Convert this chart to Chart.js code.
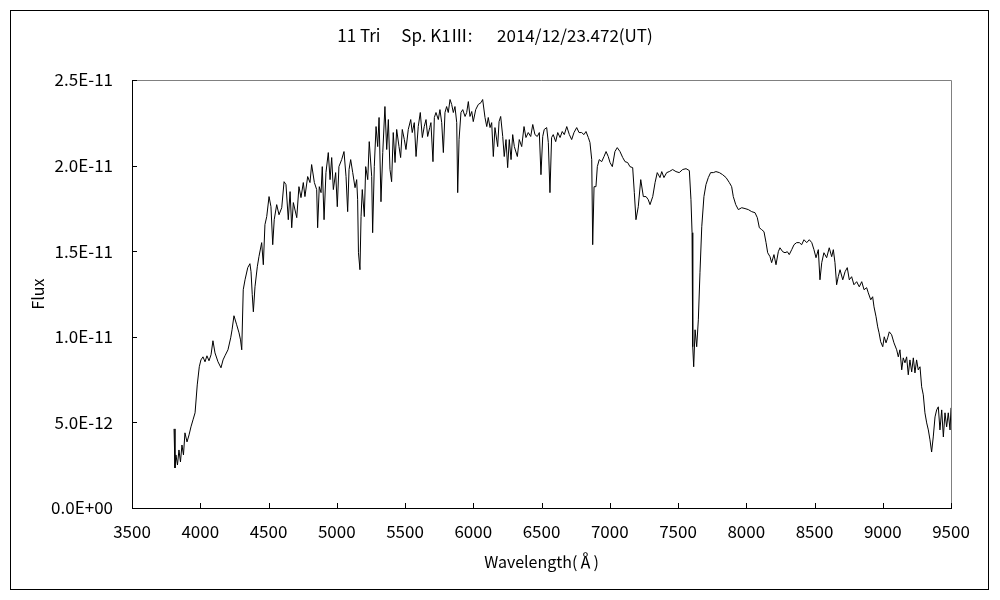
<!DOCTYPE html>
<html>
<head>
<meta charset="utf-8">
<script src="https://cdn.jsdelivr.net/npm/chart.js@4"></script>
<style>
  body { margin: 0; background: #fff; }
</style>
</head>
<body>
<canvas id="spec" width="1000" height="600"></canvas>
<script>
// wavelength in angstrom
const wavelength = [3808,3815,3822,3833,3844,3855,3866,3877,3888,3903,
  3918,3932,3947,3962,3978,3993,4005,4020,4035,4049,
  4064,4079,4093,4108,4130,4152,4167,4181,4203,4223,
  4233,4247,4267,4284,4295,4304,4315,4328,4348,4364,
  4372,4381,4389,4401,4418,4430,4450,4462,4474,4487,
  4504,4518,4531,4542,4560,4577,4597,4614,4628,4645,
  4658,4670,4682,4707,4723,4738,4755,4767,4787,4804,
  4816,4836,4853,4860,4872,4885,4894,4907,4921,4938,
  4951,4963,4975,4992,5004,5016,5036,5053,5068,5080,
  5090,5102,5117,5134,5146,5153,5159,5170,5178,5187,
  5202,5212,5227,5238,5256,5263,5275,5288,5300,5310,
  5324,5337,5353,5366,5378,5390,5402,5414,5427,5439,
  5456,5468,5480,5495,5507,5524,5542,5553,5568,5581,
  5597,5612,5627,5641,5654,5666,5681,5690,5705,5715,
  5727,5744,5756,5769,5781,5793,5805,5817,5830,5842,
  5854,5866,5879,5886,5896,5910,5923,5940,5952,5964,
  5976,5989,6000,6018,6037,6057,6069,6086,6099,6110,
  6123,6135,6147,6159,6179,6189,6201,6216,6227,6240,
  6252,6264,6277,6289,6301,6323,6337,6355,6372,6386,
  6403,6421,6436,6452,6469,6484,6496,6509,6520,6538,
  6550,6562,6574,6586,6604,6619,6636,6652,6667,6685,
  6704,6721,6738,6758,6775,6794,6811,6826,6843,6855,
  6868,6875,6885,6899,6909,6923,6941,6958,6973,6989,
  7002,7019,7038,7055,7075,7095,7112,7131,7148,7168,
  7180,7192,7209,7227,7246,7266,7282,7295,7315,7332,
  7348,7368,7381,7397,7417,7436,7461,7485,7509,7534,
  7559,7583,7595,7603,7608,7615,7625,7637,7649,7661,
  7674,7690,7705,7722,7739,7759,7778,7803,7827,7852,
  7876,7893,7905,7923,7942,7967,7991,8015,8040,8064,
  8081,8096,8113,8130,8145,8157,8174,8186,8203,8218,
  8235,8247,8267,8284,8301,8315,8333,8350,8369,8389,
  8406,8423,8443,8462,8480,8496,8511,8528,8540,8553,
  8569,8589,8608,8626,8638,8650,8662,8674,8687,8707,
  8724,8740,8755,8772,8789,8809,8828,8846,8863,8882,
  8894,8912,8926,8936,8951,8963,8973,8985,9000,9011,
  9024,9036,9048,9065,9082,9102,9114,9126,9139,9150,
  9163,9175,9187,9199,9212,9224,9236,9248,9260,9273,
  9285,9297,9309,9322,9334,9346,9358,9370,9383,9395,
  9407,9419,9432,9444,9456,9468,9480,9493,9500];

// flux in units of 1E-12
const flux = [4.62,2.34,3.10,2.51,3.39,2.69,3.68,3.10,4.39,3.86,
  4.27,4.74,5.15,5.56,7.19,8.25,8.65,8.83,8.54,8.89,
  8.60,8.95,9.77,9.06,8.54,8.19,8.65,8.89,9.24,9.94,
  10.41,11.23,10.70,10.23,9.82,9.24,12.75,13.33,14.04,14.27,
  13.80,12.46,11.46,12.92,14.09,14.68,15.50,14.21,16.55,17.02,
  18.19,17.60,15.38,16.84,17.72,17.13,17.54,19.06,18.89,16.84,
  18.48,16.37,17.84,16.96,18.77,18.13,19.01,18.19,19.36,19.01,
  20.06,19.01,18.60,16.37,18.77,18.42,19.94,16.84,19.59,20.76,
  19.18,20.47,18.60,19.59,17.60,19.94,20.35,20.82,19.36,17.31,
  19.77,20.35,19.59,18.71,19.18,18.01,14.91,13.92,17.02,18.60,
  17.02,19.94,19.18,21.40,19.36,16.08,19.94,22.28,21.11,22.81,
  17.89,20.76,23.45,20.94,22.69,19.77,19.06,21.93,20.18,22.11,
  21.11,20.47,22.11,21.52,20.94,22.11,22.69,21.93,22.51,20.53,
  22.28,23.10,21.64,22.28,22.69,21.70,22.22,22.51,20.23,22.81,
  23.10,22.69,23.27,22.51,20.76,23.10,23.45,23.10,23.86,23.57,
  23.10,23.45,22.51,18.42,21.52,23.10,23.27,22.87,23.10,23.74,
  22.87,23.16,22.57,23.27,23.57,23.68,23.86,22.81,22.28,22.81,
  22.22,22.51,20.53,22.22,21.11,22.57,22.87,21.70,20.53,21.52,
  19.88,21.52,20.35,21.81,21.11,20.53,21.52,21.11,22.28,21.64,
  21.93,21.70,22.40,21.81,21.70,21.93,19.47,21.70,22.11,22.22,
  21.35,18.42,21.64,21.81,21.40,21.93,21.64,21.99,21.81,22.28,
  21.81,21.52,21.93,22.22,21.93,21.93,21.81,21.99,21.64,21.35,
  20.35,15.38,18.77,18.77,19.94,20.35,20.23,20.53,20.82,20.53,
  20.18,19.94,20.82,21.05,20.82,20.47,20.23,20.18,19.94,19.88,
  18.42,16.84,17.60,19.18,18.19,18.19,18.01,17.72,18.19,19.01,
  19.59,19.30,19.65,19.30,19.59,19.65,19.77,19.65,19.59,19.77,
  19.82,19.71,18.01,16.08,9.42,8.25,10.41,9.42,10.99,13.74,
  16.43,18.19,18.89,19.30,19.59,19.59,19.65,19.59,19.47,19.30,
  19.01,18.77,18.19,17.72,17.43,17.54,17.49,17.43,17.31,17.25,
  16.96,16.37,16.26,16.14,15.50,14.91,14.68,14.33,14.80,14.21,
  14.97,15.20,14.97,14.91,14.97,14.80,15.09,15.38,15.50,15.50,
  15.38,15.67,15.50,15.67,15.50,15.09,14.62,15.09,13.33,14.33,
  14.91,14.62,15.20,14.68,15.09,14.33,13.04,13.51,13.92,13.33,
  13.80,14.04,13.33,13.51,13.04,13.22,12.92,13.22,12.75,12.87,
  12.57,12.16,12.34,11.75,11.17,10.58,10.23,9.71,9.42,10.00,
  9.65,9.94,10.29,10.12,9.65,9.24,8.83,9.24,8.07,8.77,
  8.48,8.83,7.78,8.65,7.95,8.77,7.89,8.65,8.07,8.25,
  7.08,6.61,5.56,4.97,4.56,3.98,3.27,4.15,5.32,5.73,
  5.91,4.56,5.73,4.15,5.56,4.74,5.56,4.56,5.85];

const xMin = 3500, xMax = 9500, xStep = 500;
const yMin = 0, yMax = 2.5e-11, yStep = 5e-12;

const chartTitle = '11 Tri\u3000 Sp. K1\u2162:\u3000  2014/12/23.472(UT)';
const xTitle = 'Wavelength(\u212B)';
const yTitle = 'Flux';

const fontFamily = '"Noto Sans CJK JP", "DejaVu Sans", sans-serif';

function expLabel(v) {
    if (Math.abs(v) < 1e-20) return '0.0E+00';
    const s = v.toExponential(1).toUpperCase();
    const parts = s.split('E');
    let e = parseInt(parts[1], 10);
    const sign = e < 0 ? '-' : '+';
    e = Math.abs(e);
    return parts[0] + 'E' + sign + (e < 10 ? '0' + e : '' + e);
}

const points = wavelength.map(function (w, i) {
    return { x: w, y: flux[i] * 1e-12 };
});

// frame, gray top/right edges and inward ticks
const framePlugin = {
    id: 'frame',
    afterDraw(chart) {
        const ctx = chart.ctx;
        const a = chart.chartArea;
        const xs = chart.scales.x, ys = chart.scales.y;
        ctx.save();
        ctx.lineWidth = 1;
        // outer border
        ctx.strokeStyle = '#000';
        ctx.strokeRect(10.5, 10.5, 978, 579);
        // top and right in gray
        ctx.strokeStyle = '#808080';
        ctx.beginPath();
        ctx.moveTo(a.left, a.top + 0.5);
        ctx.lineTo(a.right + 0.5, a.top + 0.5);
        ctx.lineTo(a.right + 0.5, a.bottom);
        ctx.stroke();
        // left and bottom in black
        ctx.strokeStyle = '#000';
        ctx.beginPath();
        ctx.moveTo(a.left + 0.5, a.top);
        ctx.lineTo(a.left + 0.5, a.bottom + 0.5);
        ctx.lineTo(a.right + 1, a.bottom + 0.5);
        ctx.stroke();
        // ticks
        ctx.beginPath();
        xs.ticks.forEach(function (t) {
            const px = Math.round(xs.getPixelForValue(t.value)) + 0.5;
            ctx.moveTo(px, a.bottom);
            ctx.lineTo(px, a.bottom - 5);
        });
        ys.ticks.forEach(function (t) {
            const py = Math.round(ys.getPixelForValue(t.value)) + 0.5;
            ctx.moveTo(a.left, py);
            ctx.lineTo(a.left + 5, py);
        });
        ctx.stroke();
        ctx.restore();
    }
};

const ctx = document.getElementById('spec').getContext('2d');
const myChart = new Chart(ctx, {
    type: 'line',
    data: {
        datasets: [{
            label: 'flux',
            data: points,
            borderColor: '#000',
            borderWidth: 1,
            pointRadius: 0,
            tension: 0,
            fill: false
        }]
    },
    options: {
        responsive: false,
        animation: false,
        layout: { padding: { left: 0, right: 10, top: 0, bottom: 0 } },
        plugins: {
            legend: { display: false },
            tooltip: { enabled: false },
            title: {
                display: true,
                text: chartTitle,
                color: '#000',
                font: { family: fontFamily, size: 17, weight: 'normal', lineHeight: 1.2 },
                padding: { top: 25, bottom: 34.6 }
            }
        },
        scales: {
            x: {
                type: 'linear',
                min: xMin,
                max: xMax,
                grid: { display: false, drawTicks: false },
                border: { display: false },
                ticks: {
                    stepSize: xStep,
                    autoSkip: false,
                    maxRotation: 0,
                    padding: 13,
                    color: '#000',
                    font: { family: fontFamily, size: 17 },
                    callback: function (v) { return String(v); }
                },
                title: {
                    display: true,
                    text: xTitle,
                    color: '#000',
                    font: { family: fontFamily, size: 16, lineHeight: 1.2 },
                    padding: { top: 0, bottom: 28 }
                },
                afterFit(scale) { scale.height = 92; }
            },
            y: {
                type: 'linear',
                min: yMin,
                max: yMax,
                grid: { display: false, drawTicks: false },
                border: { display: false },
                ticks: {
                    stepSize: yStep,
                    padding: 19,
                    color: '#000',
                    font: { family: fontFamily, size: 17 },
                    callback: function (v) { return expLabel(v); }
                },
                title: {
                    display: true,
                    text: yTitle,
                    color: '#000',
                    font: { family: fontFamily, size: 16, lineHeight: 1.2 },
                    padding: { top: 28, bottom: 0 }
                },
                afterFit(scale) { scale.width = 132; }
            },
            // empty right-hand axis, only reserves the right margin
            yRight: {
                type: 'linear',
                position: 'right',
                display: true,
                min: yMin,
                max: yMax,
                grid: { display: false, drawTicks: false },
                border: { display: false },
                ticks: { display: false },
                afterFit(scale) { scale.width = 39; }
            }
        }
    },
    plugins: [framePlugin]
});
</script>
</body>
</html>
